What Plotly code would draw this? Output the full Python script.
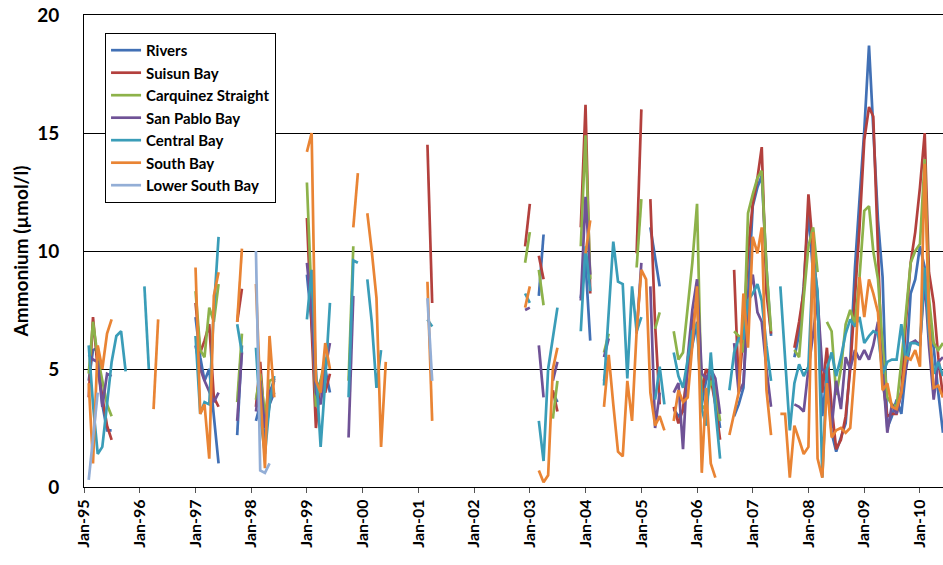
import pandas as pd
import plotly.graph_objects as go

series_names = ["Rivers", "Suisun Bay", "Carquinez Straight", "San Pablo Bay",
                "Central Bay", "South Bay", "Lower South Bay"]
series_colors = ["#4170B5", "#B3403D", "#8DB24A", "#6F5296", "#3A9DB8", "#E98434", "#93AED6"]

# Each series: list of (first month, monthly values); gaps between segments
rivers = [("1995-02", [4.5, 5.8, 5.9, 3.5, 2.4, 2.4]),
          ("1997-01", [7.2, 5.5, 4.5, 5.0, 3.0, 1.0]),
          ("1997-10", [2.2, 6.0]),
          ("1998-02", [2.8, 3.5, 2.0, 3.5, 4.0]),
          ("1999-01", [9.0, 7.0, 4.0, 4.5, 5.0, 4.0]),
          ("2003-03", [8.1, 10.7]),
          ("2003-06", [4.0, 3.6]),
          ("2003-12", [8.0, 9.5, 6.2]),
          ("2004-05", [4.5, 5.5]),
          ("2005-03", [11.0, 9.8, 8.5]),
          ("2005-08", [3.3, 3.0, 3.2, 5.0, 6.0, 7.0, 3.5, 4.5, 5.0, 4.0, 2.5]),
          ("2006-09", [3.0, 3.5, 4.2, 8.0, 11.9, 12.7, 13.2, 9.3, 6.4]),
          ("2007-10", [5.5, 6.5, 8.5, 11.7, 9.0, 7.8, 3.0, 4.8, 2.3, 1.5, 2.1, 2.7, 5.3, 9.3, 12.2,
                       15.1, 18.7, 15.4, 11.3, 8.9, 2.5, 3.0, 3.7, 3.1, 5.0, 8.2, 8.8,
                       10.2, 9.3, 7.0, 5.9, 4.0, 2.3])]

suisun_bay = [("1995-02", [3.8, 7.2, 5.0, 3.8, 2.6, 2.0]),
              ("1997-01", [7.8, 5.7, 6.2, 6.9, 3.8, 3.4]),
              ("1997-10", [7.0, 8.4]),
              ("1998-02", [3.4, 5.3, 2.5, 3.5, 4.6]),
              ("1999-01", [11.4, 6.5, 2.5, 4.5, 4.0, 4.8]),
              ("2001-03", [14.5, 7.8]),
              ("2002-12", [10.2, 12.0]),
              ("2003-03", [9.8, 8.8]),
              ("2003-06", [4.1, 3.2]),
              ("2003-12", [11.0, 16.2, 8.2]),
              ("2004-12", [9.9, 16.0]),
              ("2005-03", [12.2, 6.9, 3.5]),
              ("2005-08", [3.4, 2.7, 3.3, 5.0, 6.8, 8.0, 4.0, 5.0, 4.6, 3.5, 2.0]),
              ("2006-09", [9.2, 4.2, 6.5, 10.0, 12.0, 13.1, 14.4, 8.2, 6.5]),
              ("2007-10", [5.9, 7.0, 8.3, 12.4, 10.0, 8.1, 4.0, 5.9, 3.4, 1.6, 2.0, 3.0, 5.0, 8.0, 11.0,
                           14.7, 16.1, 15.7, 10.0, 4.5, 3.0, 3.1, 3.1, 4.0, 7.0, 9.5, 10.8,
                           12.7, 15.0, 9.1, 7.8, 5.5, 3.8])]

carquinez_straight = [("1995-02", [4.8, 7.0, 5.5, 4.5, 3.5, 3.0]),
                      ("1997-01", [8.3, 5.8, 5.5, 7.6, 7.0, 8.6]),
                      ("1997-10", [3.6, 6.5]),
                      ("1998-02", [3.7, 4.8, 3.0, 4.5, 4.6]),
                      ("1999-01", [12.9, 8.0, 3.4, 4.5, 5.5]),
                      ("1999-10", [4.5, 10.2]),
                      ("2002-12", [9.5, 10.8]),
                      ("2003-03", [9.2, 7.7]),
                      ("2003-06", [2.9, 4.5]),
                      ("2003-12", [10.2, 14.9, 8.8]),
                      ("2004-05", [5.7, 6.5]),
                      ("2004-12", [9.3, 12.2]),
                      ("2005-04", [6.7, 7.4]),
                      ("2005-08", [6.6, 5.4, 5.7, 7.5, 9.5, 12.0, 3.3, 3.5, 4.5, 4.1, 2.8]),
                      ("2006-09", [6.6, 6.4, 5.7, 11.6, 12.4, 13.1, 13.4, 9.3, 6.6]),
                      ("2007-10", [5.8, 5.5, 8.0, 10.2, 11.0, 9.1]),
                      ("2008-05", [7.0, 6.6, 3.9, 5.0, 6.9, 7.5, 6.9, 8.9, 11.7, 11.9, 10.0, 8.8,
                                   6.0, 3.8, 3.5, 3.4, 5.3, 7.5, 9.5, 10.0, 10.3, 13.9, 8.0, 6.1,
                                   5.8, 6.1])]

san_pablo_bay = [("1995-02", [5.6, 5.4, 5.3, 3.4, 4.8, 4.7]),
                 ("1997-01", [6.0, 5.0, 4.5, 4.0, 3.6, 4.0]),
                 ("1997-10", [2.8, 5.7]),
                 ("1998-02", [3.2, 4.5, 2.5, 4.0, 4.5]),
                 ("1999-01", [9.5, 7.5, 4.0, 3.5, 5.0, 6.1]),
                 ("1999-10", [2.1, 8.1]),
                 ("2002-12", [7.5, 7.6]),
                 ("2003-03", [6.0, 3.8]),
                 ("2003-06", [4.5, 5.3]),
                 ("2003-12", [7.9, 12.3, 9.0]),
                 ("2004-05", [5.5, 6.3]),
                 ("2004-12", [6.5, 9.5]),
                 ("2005-03", [8.5, 2.5, 4.0]),
                 ("2005-08", [4.0, 4.4, 1.6, 5.5, 7.5, 8.8, 4.8, 4.6, 5.0, 4.6, 3.1]),
                 ("2006-09", [6.1, 4.0, 4.4, 7.9, 9.0, 7.4, 7.0, 5.0, 3.4]),
                 ("2007-10", [3.5, 3.4, 3.2, 5.0, 6.5, 8.0, 5.0, 4.8, 2.5, 4.5, 3.3, 5.5, 5.0, 5.8, 5.4,
                              5.8, 5.4, 6.0, 7.0, 5.0, 2.3, 3.5, 3.1, 4.0, 5.0, 6.1, 6.2,
                              6.0, 8.8, 6.0, 3.7, 5.3, 5.5])]

central_bay = [("1995-02", [6.0, 3.5, 1.4, 1.7, 3.5, 5.3, 6.4, 6.6, 4.9]),
               ("1996-02", [8.5, 5.0]),
               ("1997-01", [6.4, 3.1, 3.6, 3.5, 7.5, 10.6]),
               ("1997-10", [6.9, 5.7]),
               ("1998-02", [5.9, 3.0, 1.4, 3.5, 4.7]),
               ("1999-01", [7.1, 9.2, 5.0, 1.7, 4.5, 7.8]),
               ("1999-10", [3.8, 9.6, 9.5]),
               ("2000-02", [8.8, 7.0, 4.2, 5.8]),
               ("2001-03", [7.1, 6.8]),
               ("2002-12", [8.2, 7.8]),
               ("2003-03", [2.8, 1.1, 5.0, 6.3, 7.6]),
               ("2003-12", [6.6, 10.2, 8.3]),
               ("2004-05", [4.3, 7.5, 10.4, 8.7, 8.6, 4.6, 8.5, 6.6, 7.2]),
               ("2005-04", [3.7, 5.1, 3.5]),
               ("2005-08", [5.7, 4.7, 4.2, 5.5, 6.6, 6.9, 3.3, 2.6, 5.7, 3.3, 1.2]),
               ("2006-08", [4.1, 5.7, 6.3, 6.3, 7.9, 8.2, 8.6, 7.9, 6.0, 4.5]),
               ("2007-07", [8.5, 5.5, 2.4, 4.4, 5.2, 4.7,
                            5.1, 9.7, 8.3, 0.4, 5.0, 5.7, 4.7, 5.5, 6.5, 7.1, 6.8, 7.2,
                            6.1, 6.4, 6.6, 6.5, 4.8, 5.3, 5.4, 5.4, 6.9, 5.3, 6.1, 6.1,
                            6.0, 9.3, 6.5, 4.8, 5.3, 4.7])]

south_bay = [("1995-02", [4.4, 1.0, 6.0, 5.0, 6.5, 7.1]),
             ("1996-04", [3.3, 7.1]),
             ("1997-01", [9.3, 3.1, 3.5, 1.2, 8.1, 9.1]),
             ("1997-10", [7.0, 10.1]),
             ("1998-02", [8.6, 4.0, 0.8, 6.4, 3.8]),
             ("1999-01", [14.2, 15.0, 4.5, 4.0, 6.1, 5.0]),
             ("1999-11", [11.0, 13.3]),
             ("2000-02", [11.6, 10.0, 8.0, 1.7, 5.3]),
             ("2001-03", [8.7, 2.8]),
             ("2002-12", [7.6, 8.5]),
             ("2003-03", [0.7, 0.2, 0.5, 5.0, 5.9]),
             ("2004-01", [9.9, 11.3]),
             ("2004-05", [3.4, 5.6, 3.5, 1.5, 1.3, 4.5, 2.8, 6.6, 9.2, 8.8, 4.0, 2.6, 3.0, 2.4]),
             ("2005-08", [2.8, 4.1, 3.6, 3.8, 6.0, 8.5, 0.6, 4.2, 1.0, 0.4]),
             ("2006-08", [2.2, 3.1, 4.0, 8.2, 5.9, 10.6, 9.9, 11.0, 4.1, 2.2]),
             ("2007-07", [3.1, 3.1, 0.4, 2.6, 2.0, 1.4,
                          1.7, 10.8, 1.2, 0.4, 4.4, 2.1, 2.4, 2.5, 2.3, 2.5, 5.1, 8.9,
                          7.2, 8.8, 8.2, 7.4, 4.1, 4.4, 3.4, 3.3, 4.0, 5.5, 5.4, 5.8,
                          5.1, 13.7, 7.0, 4.2, 4.3, 3.8])]

lower_south_bay = [("1995-02", [0.3, 2.0, 4.0]),
                   ("1998-02", [10.0, 0.7, 0.6, 1.0]),
                   ("2001-03", [8.0, 4.5])]

all_series = [rivers, suisun_bay, carquinez_straight, san_pablo_bay,
              central_bay, south_bay, lower_south_bay]

year_ticks = list(range(1995, 2011))
tick_labels = ["Jan-%02d" % (y % 100) for y in year_ticks]

months = pd.date_range("1995-01-01", "2010-06-01", freq="MS")


def expand(segments):
    vals = {}
    for start, values in segments:
        idx = pd.date_range(start + "-01", periods=len(values), freq="MS")
        for d, v in zip(idx, values):
            vals[d] = v
    return [vals.get(d, None) for d in months]


fig = go.Figure()
for name, color, seg in zip(series_names, series_colors, all_series):
    fig.add_trace(go.Scatter(
        x=months, y=expand(seg), mode="lines", name=name,
        line=dict(color=color, width=2.7), connectgaps=False,
        legendgroup=name))

font_family = "Lato, 'Liberation Sans', sans-serif"
fig.update_layout(
    width=943, height=565,
    margin=dict(l=84, r=0, t=15, b=78, autoexpand=False),
    plot_bgcolor="white", paper_bgcolor="white",
    font=dict(family=font_family, color="black"),
    showlegend=True,
    legend=dict(x=0.0245, y=0.962, xanchor="left", yanchor="top",
                bgcolor="white", bordercolor="black", borderwidth=1,
                font=dict(size=15, weight="bold", family=font_family),
                tracegroupgap=0, itemwidth=30),
    xaxis=dict(type="date", range=["1995-01-01", "2010-06-01"], automargin=False,
               tickvals=[pd.Timestamp(year=y, month=1, day=1) for y in year_ticks],
               ticktext=tick_labels, tickangle=-90,
               tickfont=dict(size=16, weight="bold", family=font_family),
               ticks="outside", ticklen=5, tickcolor="#555",
               showline=True, linecolor="black", linewidth=1, mirror=True,
               showgrid=False, zeroline=False),
    yaxis=dict(range=[0, 20], tickvals=[0, 5, 10, 15, 20], automargin=False,
               tickfont=dict(size=19, weight="bold", family=font_family),
               showgrid=True, gridcolor="black", gridwidth=1,
               showline=True, linecolor="black", linewidth=1,
               zeroline=False, ticks="", ticklabelstandoff=20,
               title=dict(text="Ammonium (µmol/l)",
                          font=dict(size=19, weight="bold", family=font_family),
                          standoff=3)),
)

fig.write_html("out.html",
               config={"displayModeBar": False},
               post_script="document.body.style.margin='0';"
                           "document.body.style.overflow='hidden';")
